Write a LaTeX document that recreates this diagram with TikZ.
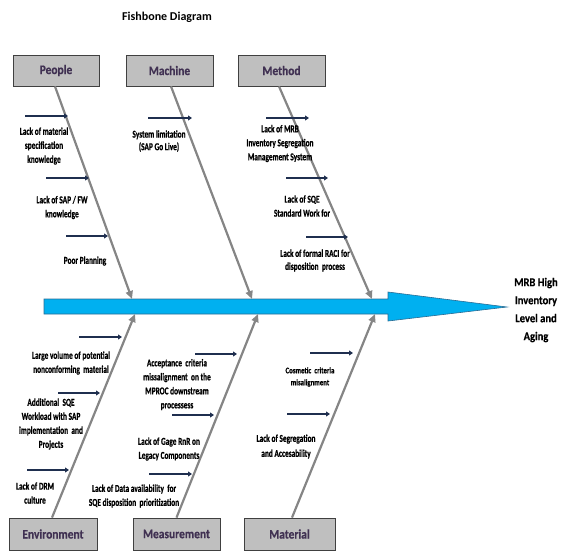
\documentclass[tikz,border=0pt]{standalone}
\usepackage{fontspec}
\setmainfont{Carlito}
\newfontfamily\causefont[FakeStretch=0.70,FakeBold=0.6]{Carlito}
\newfontfamily\smallcausefont[FakeStretch=0.80,FakeBold=0.4]{Carlito}
\newfontfamily\labfont[FakeStretch=0.88,FakeBold=0.5]{Carlito}
\usetikzlibrary{arrows.meta}
\definecolor{spineblue}{HTML}{00B0F0}
\definecolor{spineedge}{HTML}{2A6C94}
\definecolor{boxgray}{HTML}{BFBFBF}
\definecolor{boxborder}{HTML}{404040}
\definecolor{labelpurple}{HTML}{403152}
\definecolor{bonegray}{HTML}{858585}
\definecolor{navyarrow}{HTML}{1F2F4F}
\begin{document}
\begin{tikzpicture}[x=1pt,y=-1pt,
  catbox/.style={draw=boxborder, fill=boxgray, line width=0.8pt, minimum width=87pt,
    minimum height=31pt, inner sep=0pt, font=\labfont\fontsize{13}{14}\selectfont\bfseries, text=labelpurple},
  cause/.style={font=\causefont\fontsize{10.5}{14}\selectfont\bfseries, align=center, inner sep=0pt},
  bone/.style={draw=bonegray, line width=2.2pt, -{Triangle[length=8pt,width=7pt,fill=bonegray]}},
  subarrow/.style={draw=navyarrow, line width=1.8pt, -{Triangle[length=4pt,width=5pt]}}]
\useasboundingbox (0,0) rectangle (562,550);

% title
\node[font=\fontsize{12}{14}\selectfont\bfseries] (title) at (167,17) {Fishbone Diagram};

% spine
\draw[fill=spineblue, draw=spineedge, line width=0.6pt]
  (44,299) -- (388,299) -- (388,292) -- (507,307) -- (388,321) -- (388,314) -- (44,314) -- cycle;

% effect
\node[font=\labfont\fontsize{12}{18}\selectfont\bfseries, align=center, inner sep=0pt] (effect) at (536,310)
  {MRB High\\Inventory\\Level and\\Aging};

% category boxes
\node[catbox, minimum width=86pt] (people) at (56,70.5) {People};
\node[catbox] (machine) at (169.5,70.5) {Machine};
\node[catbox] (method) at (281.5,70.5) {Method};
\node[catbox, minimum width=88pt, minimum height=32pt] (environment) at (53,534) {Environment};
\node[catbox, minimum height=32pt] (measurement) at (176.5,534) {Measurement};
\node[catbox, minimum width=91pt, minimum height=32pt] (material) at (289.5,534) {Material};

% bone ends on spine
\coordinate (pe) at (132,299);
\coordinate (me) at (252,299);
\coordinate (te) at (372,299);
\coordinate (ee) at (135,314);
\coordinate (ue) at (258,314);
\coordinate (ae) at (375,314);

\draw[bone] ([xshift=-1pt]people.south) -- (pe);
\draw[bone] ([xshift=1.5pt]machine.south) -- (me);
\draw[bone] ([xshift=-2.5pt]method.south) -- (te);
\draw[bone] ([xshift=-1pt]environment.north) -- (ee);
\draw[bone] (measurement.north) -- (ue);
\draw[bone] ([xshift=2.5pt]material.north) -- (ae);

% sub-cause arrows
\coordinate (p1a) at (25,116); \coordinate (p1b) at (68,116);
\coordinate (p2a) at (46,178); \coordinate (p2b) at (89,178);
\coordinate (p3a) at (66,236); \coordinate (p3b) at (108,236);
\coordinate (m1a) at (148,118); \coordinate (m1b) at (192,118);
\coordinate (t1a) at (266,118); \coordinate (t1b) at (309,118);
\coordinate (t2a) at (286,178); \coordinate (t2b) at (328,178);
\coordinate (t3a) at (306,237); \coordinate (t3b) at (348,237);
\coordinate (e1a) at (79,337); \coordinate (e1b) at (122,337);
\coordinate (e2a) at (58,393); \coordinate (e2b) at (100,393);
\coordinate (e3a) at (27,470); \coordinate (e3b) at (69,470);
\coordinate (u1a) at (195,354); \coordinate (u1b) at (237,354);
\coordinate (u2a) at (172,415); \coordinate (u2b) at (214,415);
\coordinate (u3a) at (149,474); \coordinate (u3b) at (192,474);
\coordinate (a1a) at (310,353); \coordinate (a1b) at (353,353);
\coordinate (a2a) at (287,414); \coordinate (a2b) at (330,414);
\foreach \s in {p1,p2,p3,m1,t1,t2,t3,e1,e2,e3,u1,u2,u3,a1,a2}
  \draw[subarrow] (\s a) -- (\s b);

% cause texts
\node[cause] (c1) at (44,146) {Lack of material\\specification\\knowledge};
\node[cause] (c2) at (62,207.5) {Lack of SAP / FW\\knowledge};
\node[cause] (c3) at (85,261) {Poor Planning};
\node[cause, font=\causefont\fontsize{10.5}{12.5}\selectfont\bfseries] (c4) at (159,141) {System limitation\\(SAP Go Live)};
\node[cause] (c5) at (280,143.5) {Lack of MRB\\Inventory Segregation\\Management System};
\node[cause] (c6) at (302,206) {Lack of SQE\\Standard Work for};
\node[cause, font=\causefont\fontsize{10.5}{13}\selectfont\bfseries] (c7) at (315,260.5) {Lack of formal RACI for\\disposition\ \ process};
\node[cause] (c8) at (71,363) {Large volume of potential\\nonconforming\ \ material};
\node[cause] (c9) at (51,424) {Additional\ \ SQE\\Workload with SAP\\implementation\ \ and\\Projects};
\node[cause] (c10) at (35,493) {Lack of DRM\\culture};
\node[cause] (c11) at (177,384.5) {Acceptance\ \ criteria\\missalignment\ \ on the\\MPROC downstream\\processess};
\node[cause] (c12) at (169,449) {Lack of Gage RnR on\\Legacy Components};
\node[cause] (c13) at (134,496) {Lack of Data availability\ \ for\\SQE disposition\ \ prioritization};
\node[cause, font=\smallcausefont\fontsize{8.5}{12}\selectfont\bfseries] (c14) at (310,377) {Cosmetic\ \ criteria\\misalignment};
\node[cause, font=\causefont\fontsize{10.5}{15}\selectfont\bfseries] (c15) at (286,446.5) {Lack of Segregation\\and Accesability};
\end{tikzpicture}
\end{document}
